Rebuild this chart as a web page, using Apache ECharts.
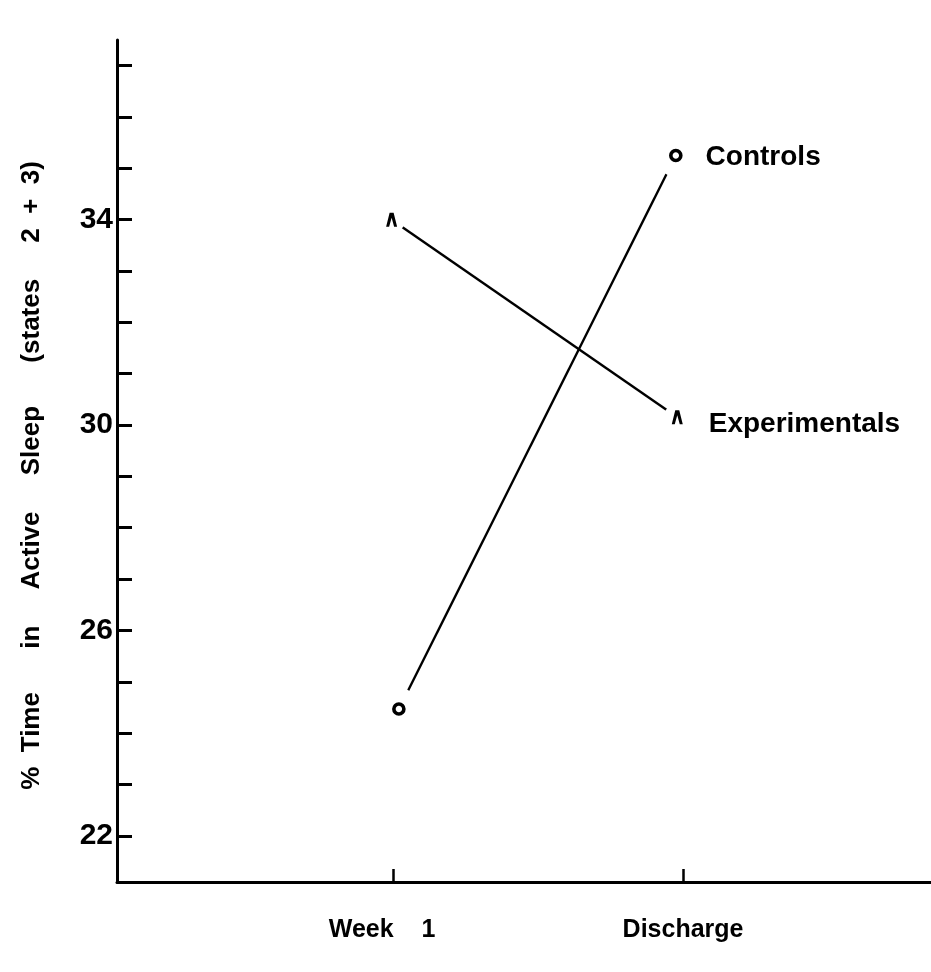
<!DOCTYPE html>
<html><head><meta charset="utf-8">
<script src="https://cdn.jsdelivr.net/npm/echarts@6/dist/echarts.min.js"></script>
<style>html,body{margin:0;padding:0;background:#fff}#c{width:931px;height:972px}</style>
</head><body><div id="c"></div>
<script>
var timeLabels = ['Week    1', 'Discharge'];
var timePositions = [1, 2];
var controlsX = [1.02, 1.975];
var controlsY = [24.47, 35.25];
var experimentalsX = [0.995, 1.98];
var experimentalsY = [34.0, 30.15];
var yTicks = [22,23,24,25,26,27,28,29,30,31,32,33,34,35,36,37];
var yTickLabels = [22, 26, 30, 34];
var yTitle = '%  Time      in     Active     Sleep      (states     2  +  3)    ';

var FONT = 'Liberation Sans';
var caret = 'path://M0,14 L3.5,0 L7.5,0 L11,14 L8,14 L5.5,5 L3,14 Z';

function pts(xs, ys) { return xs.map(function (x, i) { return [x, ys[i]]; }); }

var chart = echarts.init(document.getElementById('c'), null, {renderer: 'canvas'});
var lineStyle = {color: '#000', width: 2.4};
chart.setOption({
  backgroundColor: '#fff',
  animation: false,
  grid: {left: 117, top: 40, right: 0, bottom: 90, containLabel: false},
  xAxis: {
    type: 'value', min: 0.048, max: 2.855,
    axisLine: {lineStyle: {color: '#000', width: 3}},
    axisTick: {show: true, inside: true, length: 13, lineStyle: {color: '#000', width: 2.5}, customValues: timePositions},
    axisLabel: {
      customValues: timePositions, margin: 36,
      fontFamily: FONT, fontWeight: 'bold', fontSize: 25, color: '#000',
      formatter: function (v) { var i = timePositions.indexOf(v); return i >= 0 ? '{l' + i + '|' + timeLabels[i] + '}' : ''; },
      rich: {
        l0: {fontFamily: FONT, fontWeight: 'bold', fontSize: 25, color: '#000', padding: [0, 22, 0, 0]},
        l1: {fontFamily: FONT, fontWeight: 'bold', fontSize: 25, color: '#000'}
      }
    },
    splitLine: {show: false}
  },
  yAxis: {
    type: 'value', min: 21.1, max: 37.5,
    name: yTitle, nameLocation: 'middle', nameGap: 72, nameRotate: 90,
    nameTextStyle: {fontFamily: FONT, fontWeight: 'bold', fontSize: 26, color: '#000'},
    axisLine: {show: true, lineStyle: {color: '#000', width: 3}},
    axisTick: {show: true, inside: true, length: 15, lineStyle: {color: '#000', width: 3}, customValues: yTicks},
    axisLabel: {customValues: yTickLabels, margin: 4, fontFamily: FONT, fontWeight: 'bold', fontSize: 30, color: '#000'},
    splitLine: {show: false}
  },
  series: [
    {
      name: 'Controls', type: 'line', data: pts(controlsX, controlsY),
      lineStyle: lineStyle, symbol: 'none', z: 2
    },
    {
      name: 'Experimentals', type: 'line', data: pts(experimentalsX, experimentalsY),
      lineStyle: lineStyle, symbol: 'none', z: 2
    },
    {
      type: 'scatter', data: pts(controlsX, controlsY), symbol: 'circle', symbolSize: 42,
      itemStyle: {color: '#fff', opacity: 1}, z: 3, silent: true
    },
    {
      type: 'scatter', data: pts(experimentalsX, experimentalsY), symbol: 'circle', symbolSize: 27,
      itemStyle: {color: '#fff', opacity: 1}, z: 3, silent: true
    },
    {
      name: 'Controls', type: 'scatter', data: pts(controlsX, controlsY), symbol: 'circle', symbolSize: 10,
      itemStyle: {color: '#fff', borderColor: '#000', borderWidth: 3.6, opacity: 1}, z: 4,
      label: {
        show: true, position: 'right', distance: 23, offset: [0, 2],
        fontFamily: FONT, fontWeight: 'bold', fontSize: 28, color: '#000',
        formatter: function (p) { return p.dataIndex === 1 ? 'Controls' : ''; }
      }
    },
    {
      name: 'Experimentals', type: 'scatter', data: pts(experimentalsX, experimentalsY), symbol: caret, symbolSize: [11, 14],
      itemStyle: {color: '#000', opacity: 1}, z: 4,
      label: {
        show: true, position: 'right', distance: 26, offset: [0, 7],
        fontFamily: FONT, fontWeight: 'bold', fontSize: 28, color: '#000',
        formatter: function (p) { return p.dataIndex === 1 ? 'Experimentals' : ''; }
      }
    }
  ]
});
</script></body></html>
